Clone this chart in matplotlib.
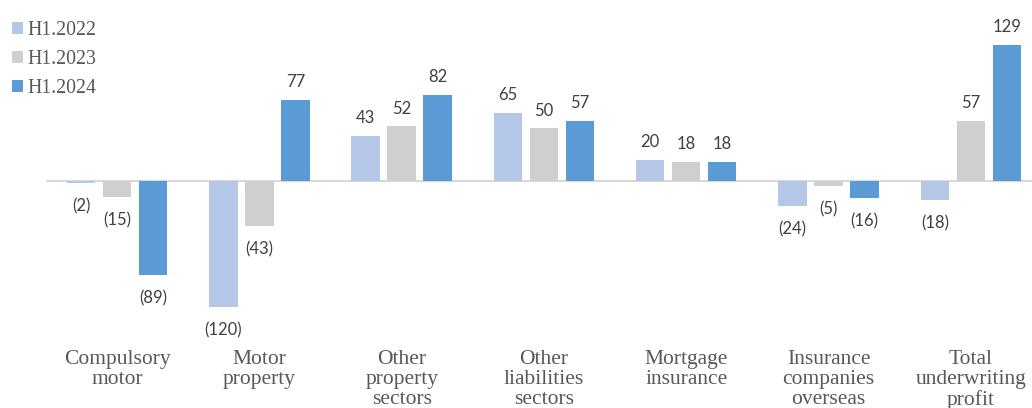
import matplotlib.pyplot as plt
import numpy as np

categories = ["Compulsory\nmotor", "Motor\nproperty", "Other\nproperty\nsectors",
              "Other\nliabilities\nsectors", "Mortgage\ninsurance",
              "Insurance\ncompanies\noverseas", "Total\nunderwriting\nprofit"]
series_names = ["H1.2022", "H1.2023", "H1.2024"]
h1_2022 = [-2, -120, 43, 65, 20, -24, -18]
h1_2023 = [-15, -43, 52, 50, 18, -5, 57]
h1_2024 = [-89, 77, 82, 57, 18, -16, 129]
colors = ["#b4c7e7", "#d0cece", "#5b9bd5"]

def fmt(v):
    return "(%d)" % abs(v) if v < 0 else "%d" % v

fig = plt.figure(figsize=(10.32, 4.08), dpi=100)
ax = fig.add_axes([46 / 1032, 68 / 408, 986 / 1032, 340 / 408])

x = np.arange(len(categories))
width = 0.2
step = 0.253
for k, (name, vals) in enumerate(zip(series_names, [h1_2022, h1_2023, h1_2024])):
    pos = x + (k - 1) * step
    ax.bar(pos, vals, width, color=colors[k], label=name, zorder=2)
    for px, v in zip(pos, vals):
        if v >= 0:
            ax.annotate(fmt(v), (px, v), xytext=(0, 7), textcoords="offset points",
                        ha="center", va="bottom", fontsize=12, color="#404040",
                        family="Lato")
        else:
            ax.annotate(fmt(v), (px, v), xytext=(0, -11), textcoords="offset points",
                        ha="center", va="top", fontsize=12, color="#404040",
                        family="Lato")

ax.axhline(0, color="#d9d9d9", linewidth=1.5, zorder=1)
ax.set_xlim(-0.5, 6.43)
ax.set_ylim(-151, 171.9)
ax.axis("off")

trans = ax.get_xaxis_transform()
for i, c in enumerate(categories):
    ax.text(i, -0.028, c, transform=trans, ha="center", va="top",
            fontsize=15.5, color="#595959", family="Liberation Serif",
            linespacing=1.08)

fig.legend(loc="upper left", bbox_to_anchor=(-0.006, 0.992), frameon=False,
           handlelength=0.55, handleheight=0.55, handletextpad=0.25,
           labelspacing=0.5, prop={"family": "Liberation Serif", "size": 14.3},
           labelcolor="#595959")

fig.savefig("out.png", dpi=100)
